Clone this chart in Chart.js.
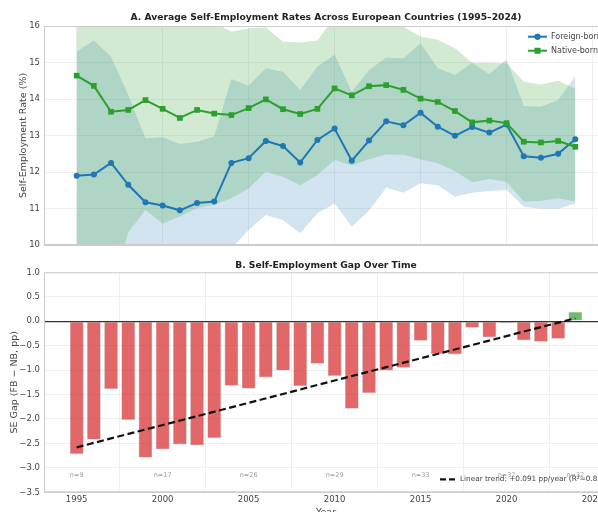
<!DOCTYPE html>
<html>
<head>
<meta charset="utf-8">
<script src="https://cdn.jsdelivr.net/npm/chart.js@4.4.1/dist/chart.umd.min.js"></script>
<style>
  html, body { margin: 0; padding: 0; background: #fff; }
  body { width: 598px; height: 512px; overflow: hidden; position: relative; }
  #top { position: absolute; left: 0; top: 0; }
  #bottom { position: absolute; left: 0; top: 255px; }
</style>
</head>
<body>
<canvas id="top" width="630" height="255"></canvas>
<canvas id="bottom" width="630" height="270"></canvas>
<script>
// --- data ---
const years = [1995, 1996, 1997, 1998, 1999, 2000, 2001, 2002, 2003, 2004,
               2005, 2006, 2007, 2008, 2009, 2010, 2011, 2012, 2013, 2014,
               2015, 2016, 2017, 2018, 2019, 2020, 2021, 2022, 2023, 2024];

// mean self-employment rate (%)
const foreignBorn = [11.90, 11.93, 12.25, 11.65, 11.17, 11.08, 10.95, 11.15, 11.19, 12.25,
                     12.38, 12.85, 12.71, 12.26, 12.88, 13.19, 12.31, 12.86, 13.39, 13.28,
                     13.62, 13.24, 12.99, 13.23, 13.08, 13.30, 12.43, 12.39, 12.50, 12.90];
const nativeBorn = [14.64, 14.36, 13.65, 13.70, 13.97, 13.73, 13.48, 13.70, 13.60, 13.56,
                    13.75, 13.99, 13.72, 13.59, 13.73, 14.29, 14.10, 14.35, 14.38, 14.25,
                    14.01, 13.92, 13.67, 13.36, 13.41, 13.34, 12.83, 12.81, 12.85, 12.69];

// shaded bands (upper / lower edge)
const foreignUpper = [15.30, 15.60, 15.16, 14.11, 12.92, 12.95, 12.77, 12.83, 12.97, 14.55,
                      14.36, 14.84, 14.75, 14.25, 14.89, 15.21, 14.20, 14.79, 15.14, 15.11,
                      15.53, 14.84, 14.66, 14.99, 14.68, 15.09, 13.81, 13.79, 13.97, 14.63];
const foreignLower = [8.50, 8.26, 9.34, 9.19, 9.42, 9.21, 9.13, 9.47, 9.41, 9.90,
                      10.41, 10.82, 10.68, 10.32, 10.87, 11.14, 10.50, 10.94, 11.57, 11.43,
                      11.69, 11.64, 11.32, 11.43, 11.48, 11.51, 11.05, 10.99, 10.99, 11.14];
const nativeUpper = [20.10, 19.70, 18.60, 17.05, 16.98, 16.87, 16.18, 16.39, 16.10, 15.84,
                     15.94, 15.96, 15.57, 15.55, 15.60, 16.25, 16.02, 16.35, 16.28, 15.97,
                     15.71, 15.62, 15.39, 14.99, 14.99, 14.98, 14.47, 14.40, 14.50, 14.28];
const nativeLower = [9.20, 9.00, 8.70, 10.35, 10.96, 10.59, 10.78, 11.01, 11.10, 11.28,
                     11.55, 12.01, 11.87, 11.64, 11.92, 12.33, 12.18, 12.35, 12.48, 12.47,
                     12.35, 12.24, 12.03, 11.72, 11.81, 11.73, 11.19, 11.21, 11.28, 11.19];

// gap FB - NB (pp)
const gapValues = [-2.72, -2.42, -1.39, -2.02, -2.79, -2.62, -2.52, -2.54, -2.39, -1.32,
                   -1.38, -1.15, -1.01, -1.33, -0.87, -1.12, -1.79, -1.47, -1.01, -0.95,
                   -0.40, -0.67, -0.68, -0.13, -0.33, -0.04, -0.39, -0.42, -0.36, 0.19];

// trend line end points
const trendYears = [1995, 2024];
const trendValues = [-2.58, 0.06];

// country counts shown under the bars
const countYears = [1995, 2000, 2005, 2010, 2015, 2020, 2024];
const countValues = [9, 17, 26, 29, 33, 32, 32];
const countLabelY = -3.15;

const titleA = 'A. Average Self-Employment Rates Across European Countries (1995\u20132024)';
const titleB = 'B. Self-Employment Gap Over Time';
const trendLabel = 'Linear trend: +0.091 pp/year (R\u00b2=0.80)';

// --- styles ---
const BLUE = '#1f77b4';
const GREEN = '#2ca02c';
const FONT = "'DejaVu Sans', sans-serif";
const GRID = '#ebebeb';
const SPINE = '#cccccc';

Chart.defaults.font.family = FONT;
Chart.defaults.color = '#444';

const pts = (arr) => years.map((yr, i) => ({ x: yr, y: arr[i] }));
const fmtNum = (v) => (v < 0 ? '\u2212' + Math.abs(v).toFixed(1) : v.toFixed(1));

// light grey box around the plot area
const frame = {
    id: 'frame',
    afterDraw(chart) {
        const { ctx, chartArea: a } = chart;
        ctx.save();
        ctx.strokeStyle = SPINE;
        ctx.lineWidth = 1;
        ctx.strokeRect(a.left + 0.5, a.top + 0.5, a.width - 1, a.height - 1);
        ctx.restore();
    }
};

// panel title centred over the plot area (matplotlib style)
const panelTitle = {
    id: 'panelTitle',
    afterDraw(chart, args, opts) {
        const { ctx, chartArea: a } = chart;
        ctx.save();
        ctx.font = 'bold 9.2px ' + FONT;
        ctx.fillStyle = '#222';
        ctx.textAlign = 'center';
        ctx.textBaseline = 'middle';
        ctx.fillText(opts.text, (a.left + a.right) / 2, opts.y);
        ctx.restore();
    }
};

// legend for panel A (line + marker)
const legendA = {
    id: 'legendA',
    afterDatasetsDraw(chart) {
        const { ctx, chartArea: a } = chart;
        const rows = [
            { text: 'Foreign-born', color: BLUE, style: 'circle', r: 3 },
            { text: 'Native-born', color: GREEN, style: 'rect', r: 4 }
        ];
        ctx.save();
        rows.forEach((row, i) => {
            const y = a.top + 10.7 + i * 14;
            const x0 = a.right - 80, x1 = a.right - 61;
            ctx.strokeStyle = row.color;
            ctx.lineWidth = 2;
            ctx.beginPath();
            ctx.moveTo(x0, y);
            ctx.lineTo(x1, y);
            ctx.stroke();
            ctx.fillStyle = row.color;
            Chart.helpers.drawPoint(ctx, { pointStyle: row.style, radius: row.r, borderWidth: 0 }, (x0 + x1) / 2, y);
            ctx.fill();
            ctx.fillStyle = '#444';
            ctx.font = '8px ' + FONT;
            ctx.textBaseline = 'middle';
            ctx.fillText(row.text, a.right - 57, y);
        });
        ctx.restore();
    }
};

// n= labels and trend legend for panel B
const notesB = {
    id: 'notesB',
    afterDatasetsDraw(chart) {
        const { ctx, chartArea: a, scales } = chart;
        ctx.save();
        ctx.font = '6.5px ' + FONT;
        ctx.fillStyle = '#999';
        ctx.textAlign = 'center';
        ctx.textBaseline = 'middle';
        countYears.forEach((yr, i) => {
            ctx.fillText('n=' + countValues[i], scales.x.getPixelForValue(yr), scales.y.getPixelForValue(countLabelY));
        });

        const y = a.bottom - 13;
        ctx.strokeStyle = '#111';
        ctx.lineWidth = 2.2;
        ctx.setLineDash([6, 3]);
        ctx.beginPath();
        ctx.moveTo(a.right - 168, y);
        ctx.lineTo(a.right - 152, y);
        ctx.stroke();
        ctx.setLineDash([]);
        ctx.font = '7.3px ' + FONT;
        ctx.fillStyle = '#444';
        ctx.textAlign = 'left';
        ctx.fillText(trendLabel, a.right - 148, y);
        ctx.restore();
    }
};

const xCommon = {
    type: 'linear',
    min: 1993.1,
    max: 2025.9,
    offset: false,
    grid: { color: GRID, lineWidth: 0.8, drawTicks: false },
    border: { color: SPINE },
    ticks: { stepSize: 5, includeBounds: false, callback: v => String(v) }
};

// ==========================================
// Panel A
// ==========================================
new Chart(document.getElementById('top'), {
    type: 'line',
    data: {
        datasets: [
            { label: 'fb upper', data: pts(foreignUpper), borderWidth: 0, pointRadius: 0, fill: false, order: 3 },
            { label: 'fb lower', data: pts(foreignLower), borderWidth: 0, pointRadius: 0, fill: '-1',
              backgroundColor: 'rgba(31,119,180,0.2)', order: 3 },
            { label: 'nb upper', data: pts(nativeUpper), borderWidth: 0, pointRadius: 0, fill: false, order: 2 },
            { label: 'nb lower', data: pts(nativeLower), borderWidth: 0, pointRadius: 0, fill: '-1',
              backgroundColor: 'rgba(44,160,44,0.22)', order: 2 },
            { label: 'Foreign-born', data: pts(foreignBorn), borderColor: BLUE, backgroundColor: BLUE,
              borderWidth: 2, pointStyle: 'circle', pointRadius: 3, pointBorderWidth: 0, fill: false, order: 1 },
            { label: 'Native-born', data: pts(nativeBorn), borderColor: GREEN, backgroundColor: GREEN,
              borderWidth: 2, pointStyle: 'rect', pointRadius: 4, pointBorderWidth: 0, fill: false, order: 0 }
        ]
    },
    options: {
        responsive: false,
        animation: false,
        layout: { padding: { left: 0, right: 22, top: 26, bottom: 0 } },
        scales: {
            x: Object.assign({}, xCommon, {
                ticks: Object.assign({}, xCommon.ticks, { display: false }),
                afterFit: (s) => { s.height = 10; }
            }),
            y: {
                min: 10, max: 16,
                grid: { color: GRID, lineWidth: 0.8, drawTicks: false },
                border: { color: SPINE },
                ticks: { stepSize: 1, padding: 4, font: { size: 8.5 } },
                title: { display: true, text: 'Self-Employment Rate (%)', font: { size: 9.5 }, padding: { top: 18, bottom: 0 } },
                afterFit: (s) => { s.width = 44; }
            }
        },
        plugins: {
            legend: { display: false },
            tooltip: { enabled: false },
            title: { display: false },
            panelTitle: { text: titleA, y: 17.3 }
        }
    },
    plugins: [frame, legendA, panelTitle]
});

// ==========================================
// Panel B
// ==========================================
new Chart(document.getElementById('bottom'), {
    type: 'bar',
    data: {
        datasets: [
            { type: 'line', label: trendLabel, data: trendYears.map((yr, i) => ({ x: yr, y: trendValues[i] })),
              borderColor: '#111', borderWidth: 2.2, borderDash: [7, 3.5], pointRadius: 0, fill: false, order: 0 },
            { label: 'Gap', data: pts(gapValues),
              backgroundColor: gapValues.map(v => v < 0 ? 'rgba(214,39,40,0.7)' : 'rgba(44,160,44,0.7)'),
              borderColor: 'rgba(150,150,150,0.6)', borderWidth: 0.6, borderSkipped: false,
              barPercentage: 0.8, categoryPercentage: 1.0, order: 1 }
        ]
    },
    options: {
        responsive: false,
        animation: false,
        layout: { padding: { left: 0, right: 22, top: 17.3, bottom: 0 } },
        scales: {
            x: Object.assign({}, xCommon, {
                ticks: Object.assign({}, xCommon.ticks, { padding: 2, font: { size: 8.5 } }),
                title: { display: true, text: 'Year', font: { size: 9.5 }, padding: { top: 0, bottom: 7 } },
                afterFit: (s) => { s.height = 32.7; }
            }),
            y: {
                min: -3.5, max: 1.0,
                grid: {
                    drawTicks: false,
                    color: c => (c.tick && c.tick.value === 0) ? '#333' : GRID,
                    lineWidth: c => (c.tick && c.tick.value === 0) ? 1.2 : 0.8
                },
                border: { color: SPINE },
                ticks: { stepSize: 0.5, padding: 4, font: { size: 8.5 }, callback: v => fmtNum(v) },
                title: { display: true, text: 'SE Gap (FB \u2212 NB, pp)', font: { size: 9.5 }, padding: { top: 9, bottom: 0 } },
                afterFit: (s) => { s.width = 44; }
            }
        },
        plugins: {
            legend: { display: false },
            tooltip: { enabled: false },
            title: { display: false },
            panelTitle: { text: titleB, y: 10.3 }
        }
    },
    plugins: [frame, notesB, panelTitle]
});
</script>
</body>
</html>
